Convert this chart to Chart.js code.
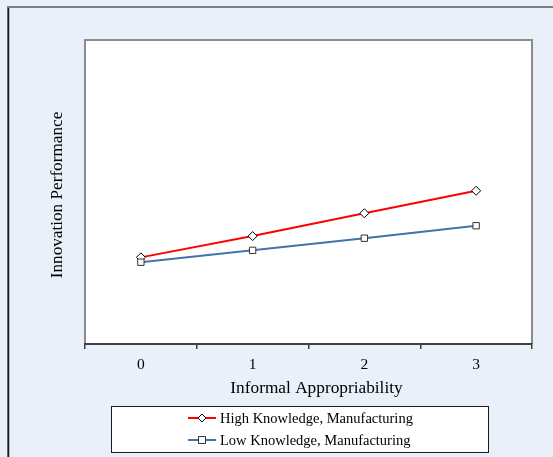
<!DOCTYPE html>
<html>
<head>
<meta charset="utf-8">
<script src="https://cdn.jsdelivr.net/npm/chart.js@4/dist/chart.umd.min.js"></script>
<style>
  html, body { margin: 0; padding: 0; background: #EAF0F9; }
  #wrap { width: 553px; height: 457px; position: relative; }
</style>
</head>
<body>
<div id="wrap"><canvas id="c" width="553" height="457"></canvas></div>
<script>
const categories = ['0', '1', '2', '3'];
const seriesNames = ['High Knowledge, Manufacturing', 'Low Knowledge, Manufacturing'];
const highKnowledge = [2.85, 3.55, 4.30, 5.04];
const lowKnowledge = [2.69, 3.08, 3.48, 3.89];
const xTitle = 'Informal Appropriability';
const yTitle = 'Innovation Performance';

const serif = "'Liberation Serif', 'Times New Roman', serif";

const backgroundPlugin = {
  id: 'bgFrame',
  beforeDraw(chart) {
    const ctx = chart.ctx;
    const a = chart.chartArea;
    ctx.save();
    ctx.fillStyle = '#EAF0F9';
    ctx.fillRect(0, 0, chart.width, chart.height);
    // outer frame
    ctx.strokeStyle = '#7f7f7f';
    ctx.lineWidth = 2;
    ctx.beginPath();
    ctx.moveTo(8, chart.height + 2);
    ctx.lineTo(8, 7);
    ctx.lineTo(chart.width + 2, 7);
    ctx.stroke();
    ctx.strokeStyle = '#1a1a1a';
    ctx.lineWidth = 1.5;
    ctx.beginPath();
    ctx.moveTo(8.5, chart.height + 2);
    ctx.lineTo(8.5, 8);
    ctx.stroke();
    // plot area
    ctx.fillStyle = '#ffffff';
    ctx.fillRect(a.left, a.top, a.right - a.left, a.bottom - a.top);
    ctx.strokeStyle = '#8c8c8c';
    ctx.lineWidth = 2;
    ctx.beginPath();
    ctx.moveTo(a.left, a.bottom);
    ctx.lineTo(a.left, a.top);
    ctx.lineTo(a.right, a.top);
    ctx.lineTo(a.right, a.bottom);
    ctx.stroke();
    ctx.restore();
  },
  afterDraw(chart) {
    const ctx = chart.ctx;
    ctx.save();
    // axis titles
    ctx.fillStyle = '#000000';
    ctx.font = '17.3px ' + serif;
    ctx.textAlign = 'center';
    ctx.textBaseline = 'middle';
    ctx.fillText(xTitle, 316.5, 388);
    ctx.save();
    ctx.translate(57, 195);
    ctx.rotate(-Math.PI / 2);
    ctx.font = '17.2px ' + serif;
    ctx.fillText(yTitle, 0, 0);
    ctx.restore();
    // legend box
    const bx = 111.5, by = 406.5, bw = 377, bh = 46;
    ctx.fillStyle = '#ffffff';
    ctx.fillRect(bx, by, bw, bh);
    ctx.strokeStyle = '#1a1a1a';
    ctx.lineWidth = 1;
    ctx.strokeRect(bx, by, bw, bh);
    const rows = [418, 440];
    chart.data.datasets.forEach((ds, i) => {
      const y = rows[i];
      ctx.strokeStyle = ds.borderColor;
      ctx.lineWidth = 2;
      ctx.beginPath();
      ctx.moveTo(188, y);
      ctx.lineTo(216, y);
      ctx.stroke();
      ctx.fillStyle = '#ffffff';
      ctx.strokeStyle = ds.pointBorderColor;
      ctx.lineWidth = 1;
      ctx.beginPath();
      if (ds.pointStyle === 'rectRot') {
        ctx.moveTo(202, y - 4);
        ctx.lineTo(206, y);
        ctx.lineTo(202, y + 4);
        ctx.lineTo(198, y);
        ctx.closePath();
      } else {
        ctx.rect(198.5, y - 3.5, 7, 7);
      }
      ctx.fill();
      ctx.stroke();
      ctx.fillStyle = '#000000';
      ctx.font = '14.5px ' + serif;
      ctx.textBaseline = 'middle';
      ctx.textAlign = 'left';
      ctx.fillText(ds.label, 220, y + 1);
    });
    ctx.restore();
  }
};

new Chart(document.getElementById('c'), {
  type: 'line',
  data: {
    labels: categories,
    datasets: [
      {
        label: seriesNames[0],
        data: highKnowledge,
        borderColor: '#FF0000',
        borderWidth: 2,
        pointStyle: 'rectRot',
        pointRadius: 4.5,
        pointBackgroundColor: '#ffffff',
        pointBorderColor: '#000000',
        pointBorderWidth: 1,
        tension: 0,
        order: 1
      },
      {
        label: seriesNames[1],
        data: lowKnowledge,
        borderColor: '#4572A7',
        borderWidth: 2,
        pointStyle: 'rect',
        pointRadius: 4.5,
        pointBackgroundColor: '#ffffff',
        pointBorderColor: '#333333',
        pointBorderWidth: 1,
        tension: 0,
        order: 0
      }
    ]
  },
  options: {
    responsive: false,
    animation: false,
    devicePixelRatio: 1,
    layout: { padding: { left: 0, right: 21, top: 40, bottom: 0 } },
    plugins: {
      legend: { display: false },
      tooltip: { enabled: false }
    },
    scales: {
      x: {
        type: 'category',
        offset: true,
        afterFit(scale) { scale.height = 113; },
        grid: {
          display: true,
          offset: true,
          drawOnChartArea: false,
          drawTicks: true,
          tickLength: 5,
          color: '#404040',
          lineWidth: 1.5
        },
        border: { display: true, color: '#404040', width: 2 },
        ticks: {
          color: '#000000',
          padding: 7,
          maxRotation: 0,
          font: { family: serif, size: 15.5 }
        },
        title: { display: false }
      },
      y: {
        min: 0,
        max: 10,
        afterFit(scale) { scale.width = 85; },
        grid: { display: false },
        border: { display: false },
        ticks: { display: false },
        title: { display: false }
      }
    }
  },
  plugins: [backgroundPlugin]
});
</script>
</body>
</html>
